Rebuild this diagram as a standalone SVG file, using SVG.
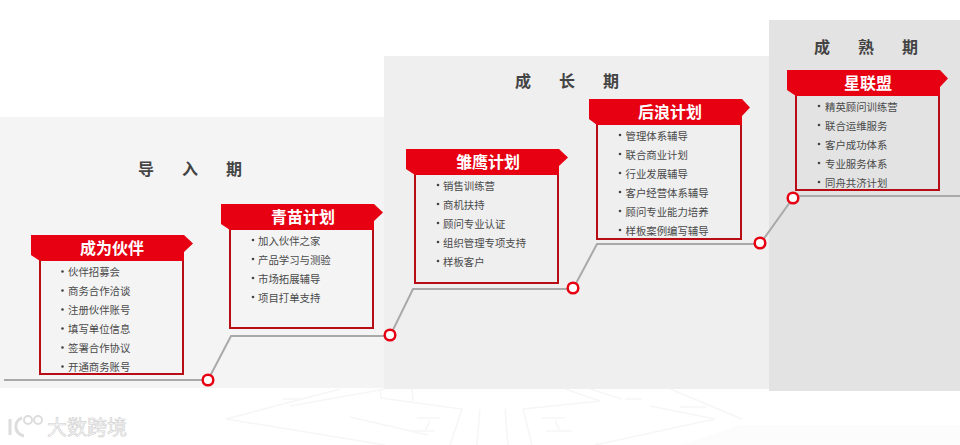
<svg xmlns="http://www.w3.org/2000/svg" width="960" height="445" viewBox="0 0 960 445">
<style>
text{font-family:"Noto Sans CJK SC","Liberation Sans",sans-serif}
.item{font-size:10.4px;fill:#4a4a4a}
.dot{fill:#444}
.title{font-size:16px;font-weight:700;fill:#fff;text-anchor:middle}
.phase{font-size:16px;font-weight:700;fill:#444;text-anchor:middle}
.hdr{fill:#e60012}
.box{fill:none;stroke:#b80d15;stroke-width:2}
.wire{fill:none;stroke:#a9a9a9;stroke-width:2}
.pin{fill:#fff;stroke:#e60012;stroke-width:2.5}
.bgl{fill:none;stroke:#f6f6f6;stroke-width:1.5}
</style>
<rect width="960" height="445" fill="#fff"/>
<g id="background-pattern">
<path class="bgl" d="M340 389L226 419L385 445M385 389L290 406M283 399H300M350 417L428 435M417 418H440M430 420L425 431M411 431H435"/>
<path class="bgl" d="M380 389L381 398L462 409L450 445M412 389L413 401M480 409L477 445M505 409L508 445M523 409L532 445"/>
<path class="bgl" d="M565 389L600 401L523 409M590 389L622 399M625 399H642M650 406L715 419L595 445M670 389L742 419M680 407H706M542 418H565M555 420L560 431M546 431H572"/>
<path d="M680 445L740 425H960V445Z" fill="#fcfcfc"/>
</g>
<g id="phase-intro"><rect x="0" y="117" width="384" height="271" fill="#f4f4f5"/>
<text class="phase" x="146" y="175">导</text><text class="phase" x="190" y="175">入</text><text class="phase" x="234" y="175">期</text></g>
<g id="phase-growth"><rect x="384" y="56" width="385" height="333" fill="#efeff0"/>
<text class="phase" x="523" y="87">成</text><text class="phase" x="567" y="87">长</text><text class="phase" x="611" y="87">期</text></g>
<g id="phase-mature"><rect x="769" y="20" width="191" height="371" fill="#e3e3e3"/>
<text class="phase" x="822" y="53">成</text><text class="phase" x="866" y="53">熟</text><text class="phase" x="910" y="53">期</text></g>
<g id="connectors">
<path class="wire" d="M4 380H208L231 336H390L413 289H573L597 244H760L793 198L800 196H960"/>
</g>
<g id="node-partner">
<rect class="box" x="40" y="260" width="143" height="114"/>
<path class="hdr" d="M31 235H184L193 243.500L184 252V261H40L31 255Z"/>
<text class="title" x="112" y="254">成为伙伴</text>
<g class="item"><text x="68" y="276">伙伴招募会</text><text x="68" y="295">商务合作洽谈</text><text x="68" y="314">注册伙伴账号</text><text x="68" y="333">填写单位信息</text><text x="68" y="352">签署合作协议</text><text x="68" y="371">开通商务账号</text></g>
<g class="dot"><circle cx="62.500" cy="271.500" r="1.300"/><circle cx="62.500" cy="290.500" r="1.300"/><circle cx="62.500" cy="309.500" r="1.300"/><circle cx="62.500" cy="328.500" r="1.300"/><circle cx="62.500" cy="347.500" r="1.300"/><circle cx="62.500" cy="366.500" r="1.300"/></g>
</g>
<g id="node-seedling">
<rect class="box" x="230" y="229" width="143" height="99"/>
<path class="hdr" d="M221 204H374L383 212.500L374 221V230H230L221 224Z"/>
<text class="title" x="303" y="223">青苗计划</text>
<g class="item"><text x="258" y="245">加入伙伴之家</text><text x="258" y="264">产品学习与测验</text><text x="258" y="283">市场拓展辅导</text><text x="258" y="302">项目打单支持</text></g>
<g class="dot"><circle cx="253" cy="240" r="1.300"/><circle cx="253" cy="259" r="1.300"/><circle cx="253" cy="278" r="1.300"/><circle cx="253" cy="297" r="1.300"/></g>
</g>
<g id="node-eagle">
<rect class="box" x="415" y="174" width="143" height="109"/>
<path class="hdr" d="M406 149H559L568 157.500L559 166V175H415L406 169Z"/>
<text class="title" x="488" y="168">雏鹰计划</text>
<g class="item"><text x="443" y="190">销售训练营</text><text x="443" y="209">商机扶持</text><text x="443" y="228">顾问专业认证</text><text x="443" y="247">组织管理专项支持</text><text x="443" y="266">样板客户</text></g>
<g class="dot"><circle cx="438" cy="185" r="1.300"/><circle cx="438" cy="204" r="1.300"/><circle cx="438" cy="223" r="1.300"/><circle cx="438" cy="242" r="1.300"/><circle cx="438" cy="261" r="1.300"/></g>
</g>
<g id="node-wave">
<rect class="box" x="597" y="124" width="144" height="115"/>
<path class="hdr" d="M589 99H742L750 107.500L742 116V125H597L589 119Z"/>
<text class="title" x="670" y="118">后浪计划</text>
<g class="item"><text x="625.500" y="140">管理体系辅导</text><text x="625.500" y="159">联合商业计划</text><text x="625.500" y="178">行业发展辅导</text><text x="625.500" y="197">客户经营体系辅导</text><text x="625.500" y="216">顾问专业能力培养</text><text x="625.500" y="235">样板案例编写辅导</text></g>
<g class="dot"><circle cx="620" cy="135" r="1.300"/><circle cx="620" cy="154" r="1.300"/><circle cx="620" cy="173" r="1.300"/><circle cx="620" cy="192" r="1.300"/><circle cx="620" cy="211" r="1.300"/><circle cx="620" cy="230" r="1.300"/></g>
</g>
<g id="node-star">
<rect class="box" x="796" y="95" width="143" height="95"/>
<path class="hdr" d="M787 70H940L948 78.500L940 87V96H796L787 90Z"/>
<text class="title" x="868" y="89">星联盟</text>
<g class="item"><text x="825" y="111">精英顾问训练营</text><text x="825" y="130">联合运维服务</text><text x="825" y="149">客户成功体系</text><text x="825" y="168">专业服务体系</text><text x="825" y="187">同舟共济计划</text></g>
<g class="dot"><circle cx="819" cy="106" r="1.300"/><circle cx="819" cy="125" r="1.300"/><circle cx="819" cy="144" r="1.300"/><circle cx="819" cy="163" r="1.300"/><circle cx="819" cy="182" r="1.300"/></g>
</g>
<g id="pins">
<circle class="pin" cx="208" cy="380" r="5.300"/><circle class="pin" cx="390" cy="335" r="5.300"/><circle class="pin" cx="573" cy="288" r="5.300"/><circle class="pin" cx="760" cy="243" r="5.300"/><circle class="pin" cx="793" cy="198" r="5.300"/>
</g>
<g id="watermark">
<path d="M10 419V435M22 418C14 420 13 433 24 436" fill="none" stroke="#ddd" stroke-width="3"/>
<circle cx="28" cy="420" r="4" fill="#fff" stroke="#ddd" stroke-width="2"/><circle cx="38" cy="420" r="4" fill="#fff" stroke="#ddd" stroke-width="2"/>
<text x="47" y="435" font-size="20" fill="#fafafa" stroke="#cfcfcf" stroke-width=".6">大数跨境</text>
</g>
</svg>
